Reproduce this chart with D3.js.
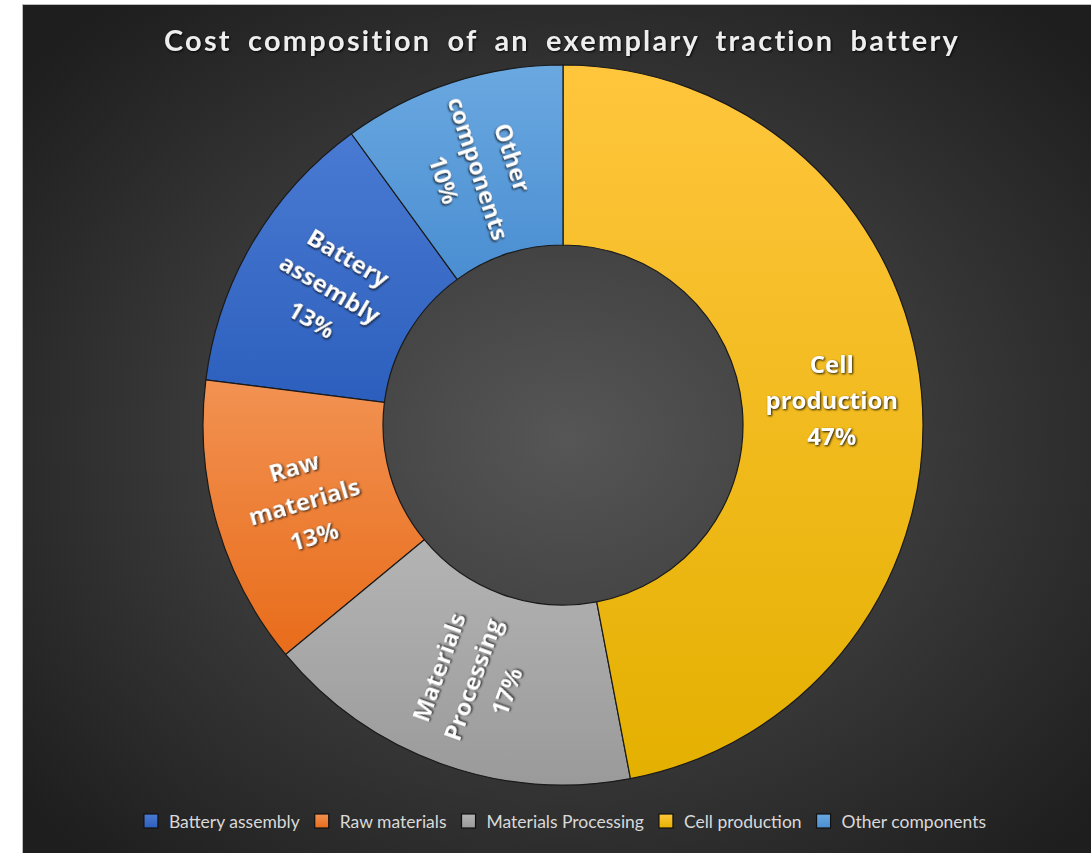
<!DOCTYPE html>
<html>
<head>
<meta charset="utf-8">
<script src="https://cdn.jsdelivr.net/npm/d3@7"></script>
<style>
  html, body { margin: 0; padding: 0; background: #ffffff; }
  svg { display: block; }
  .title { font-family: Lato, "Open Sans", sans-serif; font-weight: 700; fill: #eeeeee; }
  .slice-label { font-family: "Open Sans", Lato, sans-serif; font-weight: 700; fill: #ffffff; }
  .legend-text { font-family: Lato, "Open Sans", sans-serif; font-weight: 400; fill: #d9d9d9; }
  .shadow { filter: drop-shadow(1px 1.5px 1.2px rgba(0,0,0,0.85)); }
</style>
</head>
<body>
<svg id="chart" width="1091" height="853"></svg>
<script>
// Cost shares of a traction battery, in percent
const categories = ["Battery assembly", "Raw materials", "Materials Processing", "Cell production", "Other components"];
const shares = [13, 13, 17, 47, 10];
const labelLines = [
  ["Battery", "assembly"],
  ["Raw", "materials"],
  ["Materials", "Processing"],
  ["Cell", "production"],
  ["Other", "components"]
];
const chartTitle = "Cost composition of an exemplary traction battery";

// Fill gradients per category: [top colour, bottom colour]
const palette = [
  ["#4a7bd3", "#2c5fbd"],
  ["#f29252", "#e86c1a"],
  ["#b4b4b4", "#9a9a9a"],
  ["#ffc63d", "#e4b000"],
  ["#6aa8e0", "#4a8ed2"]
];

const W = 1091, H = 853;
const svg = d3.select("#chart");
const defs = svg.append("defs");

// Chart area background: dark radial gradient with a thin grey frame
const bg = defs.append("radialGradient").attr("id", "bgGrad")
  .attr("cx", "50%").attr("cy", "50%").attr("r", "65%");
bg.append("stop").attr("offset", "0%").attr("stop-color", "#565656");
bg.append("stop").attr("offset", "100%").attr("stop-color", "#1e1e1e");

const frame = { x: 22.5, y: 4.5 };
svg.append("rect")
  .attr("x", frame.x).attr("y", frame.y)
  .attr("width", W + 20 - frame.x).attr("height", H + 20 - frame.y)
  .attr("fill", "url(#bgGrad)")
  .attr("stroke", "#bdbdbd").attr("stroke-width", 1);

palette.forEach((p, i) => {
  const g = defs.append("linearGradient").attr("id", "sliceGrad" + i)
    .attr("x1", 0).attr("y1", 0).attr("x2", 0).attr("y2", 1);
  g.append("stop").attr("offset", "0%").attr("stop-color", p[0]);
  g.append("stop").attr("offset", "100%").attr("stop-color", p[1]);
});

// Title
svg.append("text")
  .attr("class", "title shadow")
  .attr("x", 562).attr("y", 51)
  .attr("text-anchor", "middle")
  .style("font-size", "29px")
  .style("letter-spacing", "2.2px")
  .style("word-spacing", "7px")
  .text(chartTitle);

// Donut
const cx = 563, cy = 425, rOuter = 360, rInner = 180;
const total = d3.sum(shares);
// Slices run counter-clockwise; the last category ends at 12 o'clock
const start = 2 * Math.PI * (1 - shares[shares.length - 1] / total);
const pie = d3.pie().sort(null).value(d => d)
  .startAngle(start).endAngle(start - 2 * Math.PI);
const arcs = pie(shares);
const arc = d3.arc().innerRadius(rInner).outerRadius(rOuter);

const g = svg.append("g").attr("transform", `translate(${cx},${cy})`);

g.selectAll("path.slice")
  .data(arcs)
  .join("path")
  .attr("class", "slice")
  .attr("d", arc)
  .attr("fill", (d, i) => `url(#sliceGrad${i})`)
  .attr("stroke", "#1a1a1a")
  .attr("stroke-width", 1.2);

// Slice labels, rotated along the radius for the smaller slices
const lineH = 36;
const labels = g.selectAll("g.label")
  .data(arcs)
  .join("g")
  .attr("class", "label shadow")
  .attr("transform", (d, i) => {
    const [x, y] = arc.centroid(d);
    const mid = (d.startAngle + d.endAngle) / 2;
    let rot = Math.atan2(Math.cos(mid), -Math.sin(mid)) * 180 / Math.PI;
    if (rot > 90) rot -= 180;
    if (rot <= -90) rot += 180;
    if (shares[i] / total >= 0.25) rot = 0;
    return `translate(${x},${y}) rotate(${rot})`;
  });

labels.each(function(d, i) {
  const lines = labelLines[i].concat([`${shares[i]}%`]);
  const n = lines.length;
  d3.select(this).selectAll("text")
    .data(lines)
    .join("text")
    .attr("class", "slice-label")
    .attr("text-anchor", "middle")
    .attr("dominant-baseline", "central")
    .attr("y", (t, k) => (k - (n - 1) / 2) * lineH)
    .style("font-size", "24px")
    .text(t => t);
});

// Legend along the bottom
const legendY = 821;
const sq = 14, gapSqText = 11, gapItems = 15;
const legend = svg.append("g");
const items = legend.selectAll("g.item")
  .data(categories)
  .join("g")
  .attr("class", "item");

items.append("rect")
  .attr("width", sq).attr("height", sq)
  .attr("y", legendY - sq / 2)
  .attr("fill", (d, i) => `url(#sliceGrad${i})`)
  .attr("stroke", "#111111").attr("stroke-width", 1.2);

items.append("text")
  .attr("class", "legend-text")
  .attr("x", sq + gapSqText)
  .attr("y", legendY)
  .attr("dominant-baseline", "central")
  .style("font-size", "17.5px")
  .text(d => d);

// Place items side by side and centre the row
let xPos = 0;
const widths = [];
items.each(function() {
  const w = this.querySelector("text").getComputedTextLength() + sq + gapSqText;
  widths.push(w);
});
const totalW = d3.sum(widths) + gapItems * (widths.length - 1);
xPos = 565 - totalW / 2;
items.attr("transform", (d, i) => {
  const x = xPos;
  xPos += widths[i] + gapItems;
  return `translate(${x},0)`;
});
</script>
</body>
</html>
